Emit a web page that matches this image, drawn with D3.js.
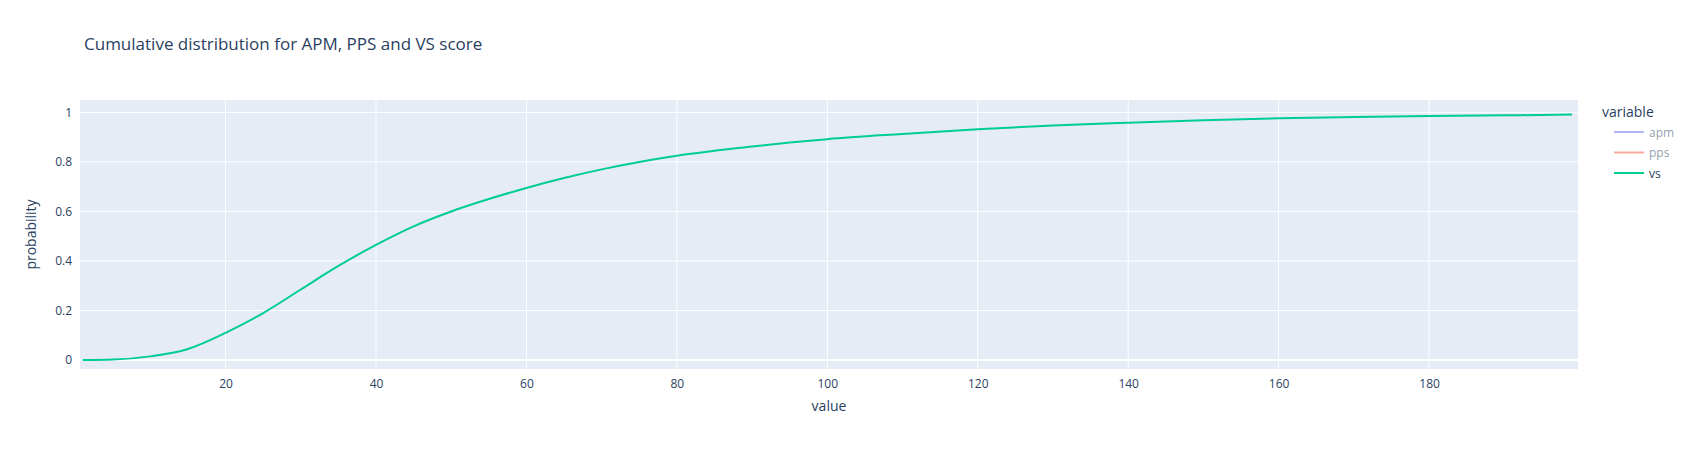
<!DOCTYPE html>
<html><head><meta charset="utf-8">
<script src="https://cdn.jsdelivr.net/npm/d3@7"></script>
<style>body{margin:0;background:#fff}text{font-family:"Open Sans",Arial,sans-serif;fill:#2a3f5f}</style>
</head><body><svg id="c" width="1692" height="450"></svg>
<script>
// vs cumulative distribution
let vsX = [1,5,10,15,20,25,30,35,40,45,50,55,60,65,70,75,80,85,90,95,100,110,120,130,140,150,160,170,180,190,199];
let vsY = [0,0.002,0.015,0.045,0.11,0.19,0.285,0.38,0.465,0.54,0.6,0.65,0.695,0.735,0.77,0.8,0.825,0.845,0.862,0.878,0.892,0.913,0.932,0.947,0.958,0.968,0.976,0.981,0.985,0.988,0.991];
let xTicks = [20,40,60,80,100,120,140,160,180];
let yTicks = [0,0.2,0.4,0.6,0.8,1];
let legendNames = ["apm","pps","vs"];
let legendColors = ["#636efa","#EF553B","#00cc96"];
let legendOn = [false,false,true];

let svg = d3.select("#c");
let L = 80, R = 1578, T = 100, B = 369;
let x = d3.scaleLinear().domain([0.65,199.8]).range([L,R]);
let y = d3.scaleLinear().domain([-0.036,1.05]).range([B,T]);

svg.append("rect").attr("x",L).attr("y",T).attr("width",R-L).attr("height",B-T).attr("fill","#e5ecf6");

let xa = svg.append("g").attr("transform",`translate(0,${B})`)
  .call(d3.axisBottom(x).tickValues(xTicks).tickSize(0).tickPadding(10));
xa.select(".domain").remove();
xa.selectAll("text").attr("font-size",12).style("fill","#2a3f5f");
svg.selectAll(".vg").data(xTicks).enter().append("line")
  .attr("x1",d=>x(d)).attr("x2",d=>x(d)).attr("y1",T).attr("y2",B)
  .attr("stroke","#fff").attr("stroke-width",1);

let ya = svg.append("g").attr("transform",`translate(${L},0)`)
  .call(d3.axisLeft(y).tickValues(yTicks).tickSize(0).tickPadding(8).tickFormat(d3.format("")));
ya.select(".domain").remove();
ya.selectAll("text").attr("font-size",12).style("fill","#2a3f5f");
svg.selectAll(".hg").data(yTicks).enter().append("line")
  .attr("x1",L).attr("x2",R).attr("y1",d=>y(d)).attr("y2",d=>y(d))
  .attr("stroke","#fff").attr("stroke-width",d=>d===0?2:1);

svg.append("path").datum(vsX.map((v,i)=>[v,vsY[i]]))
  .attr("d",d3.line().x(d=>x(d[0])).y(d=>y(d[1])).curve(d3.curveMonotoneX))
  .attr("fill","none").attr("stroke","#00cc96").attr("stroke-width",2);

svg.append("text").attr("x",84).attr("y",50).attr("font-size",17).text("Cumulative distribution for APM, PPS and VS score");
svg.append("text").attr("x",(L+R)/2).attr("y",411).attr("text-anchor","middle").attr("font-size",14).text("value");
svg.append("text").attr("transform",`translate(36,${(T+B)/2}) rotate(-90)`).attr("text-anchor","middle").attr("font-size",14).text("probability");

svg.append("text").attr("x",1602).attr("y",117).attr("font-size",14).text("variable");
legendNames.forEach((n,i)=>{
  let g = svg.append("g").attr("transform",`translate(1614,${132+i*20.5})`).attr("opacity",legendOn[i]?1:0.5);
  g.append("line").attr("x1",0).attr("x2",30).attr("stroke",legendColors[i]).attr("stroke-width",2);
  g.append("text").attr("x",35).attr("y",4.5).attr("font-size",12).text(n);
});
</script></body></html>
